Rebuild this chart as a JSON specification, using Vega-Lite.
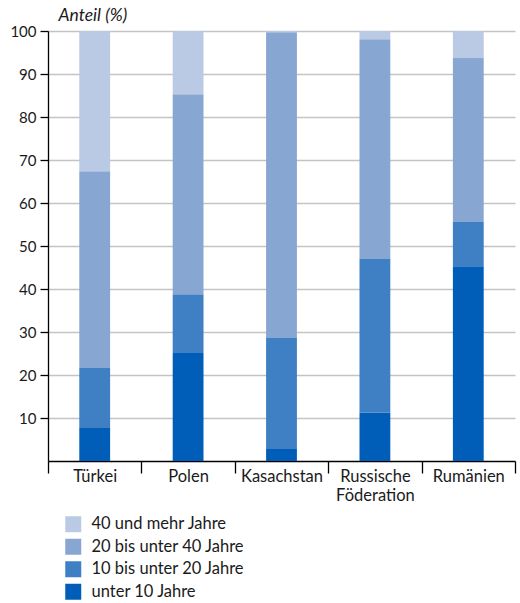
{
  "$schema": "https://vega.github.io/schema/vega-lite/v6.json",
  "autosize": "none",
  "width": 467,
  "height": 430,
  "padding": {"left": 48, "top": 31, "right": 5, "bottom": 142},
  "background": "white",
  "config": {
    "font": "Lato",
    "view": {"stroke": null}
  },
  "data": {
    "values": [
      {"land": "Türkei", "gruppe": "unter 10 Jahre", "anteil": 7.7, "o": 1},
      {"land": "Türkei", "gruppe": "10 bis unter 20 Jahre", "anteil": 13.9, "o": 2},
      {"land": "Türkei", "gruppe": "20 bis unter 40 Jahre", "anteil": 45.8, "o": 3},
      {"land": "Türkei", "gruppe": "40 und mehr Jahre", "anteil": 32.6, "o": 4},
      {"land": "Polen", "gruppe": "unter 10 Jahre", "anteil": 25.1, "o": 1},
      {"land": "Polen", "gruppe": "10 bis unter 20 Jahre", "anteil": 13.7, "o": 2},
      {"land": "Polen", "gruppe": "20 bis unter 40 Jahre", "anteil": 46.5, "o": 3},
      {"land": "Polen", "gruppe": "40 und mehr Jahre", "anteil": 14.7, "o": 4},
      {"land": "Kasachstan", "gruppe": "unter 10 Jahre", "anteil": 2.8, "o": 1},
      {"land": "Kasachstan", "gruppe": "10 bis unter 20 Jahre", "anteil": 25.8, "o": 2},
      {"land": "Kasachstan", "gruppe": "20 bis unter 40 Jahre", "anteil": 71.1, "o": 3},
      {"land": "Kasachstan", "gruppe": "40 und mehr Jahre", "anteil": 0.3, "o": 4},
      {"land": "Russische Föderation", "gruppe": "unter 10 Jahre", "anteil": 11.2, "o": 1},
      {"land": "Russische Föderation", "gruppe": "10 bis unter 20 Jahre", "anteil": 35.8, "o": 2},
      {"land": "Russische Föderation", "gruppe": "20 bis unter 40 Jahre", "anteil": 51.1, "o": 3},
      {"land": "Russische Föderation", "gruppe": "40 und mehr Jahre", "anteil": 1.9, "o": 4},
      {"land": "Rumänien", "gruppe": "unter 10 Jahre", "anteil": 45.3, "o": 1},
      {"land": "Rumänien", "gruppe": "10 bis unter 20 Jahre", "anteil": 10.3, "o": 2},
      {"land": "Rumänien", "gruppe": "20 bis unter 40 Jahre", "anteil": 38.1, "o": 3},
      {"land": "Rumänien", "gruppe": "40 und mehr Jahre", "anteil": 6.3, "o": 4}
    ]
  },
  "mark": {"type": "bar", "width": {"band": 0.33}},
  "encoding": {
    "x": {
      "field": "land",
      "type": "nominal",
      "sort": null,
      "scale": {"paddingInner": 0, "paddingOuter": 0},
      "axis": {
        "title": null,
        "labelAngle": 0,
        "labelFontSize": 16.5,
        "labelColor": "#1a1a1a",
        "labelPadding": -5,
        "labelExpr": "datum.label == 'Russische Föderation' ? ['Russische', 'Föderation'] : datum.label",
        "labelLineHeight": 19,
        "tickBand": "extent",
        "tickSize": 12,
        "tickColor": "#000000",
        "tickWidth": 1.3,
        "domainColor": "#000000",
        "domainWidth": 1.3,
        "grid": false
      }
    },
    "y": {
      "field": "anteil",
      "type": "quantitative",
      "stack": "zero",
      "scale": {"domain": [0, 100], "nice": false},
      "axis": {
        "title": "Anteil (%)",
        "titleAngle": 0,
        "titleAnchor": "end",
        "titleAlign": "left",
        "titleBaseline": "bottom",
        "titleX": 10,
        "titleY": -7,
        "titleFontSize": 17.5,
        "titleFontStyle": "italic",
        "titleFontWeight": "normal",
        "titleColor": "#1a1a1a",
        "values": [10, 20, 30, 40, 50, 60, 70, 80, 90, 100],
        "labelFontSize": 15,
        "labelColor": "#1a1a1a",
        "labelPadding": 4,
        "tickSize": 8,
        "tickColor": "#000000",
        "tickWidth": 1.3,
        "domainColor": "#000000",
        "domainWidth": 1.3,
        "grid": true,
        "gridColor": "#c4c4c4",
        "gridWidth": 1.5
      }
    },
    "color": {
      "field": "gruppe",
      "type": "nominal",
      "scale": {
        "domain": ["40 und mehr Jahre", "20 bis unter 40 Jahre", "10 bis unter 20 Jahre", "unter 10 Jahre"],
        "range": ["#bacae4", "#87a6d2", "#3f7fc4", "#005eb8"]
      },
      "legend": {
        "title": null,
        "orient": "none",
        "legendX": 17,
        "legendY": 485,
        "direction": "vertical",
        "symbolType": "square",
        "symbolSize": 256,
        "symbolStrokeWidth": 0,
        "labelFontSize": 16.5,
        "labelColor": "#1a1a1a",
        "labelOffset": 10,
        "rowPadding": 5.5
      }
    },
    "order": {"field": "o", "type": "quantitative"}
  }
}
